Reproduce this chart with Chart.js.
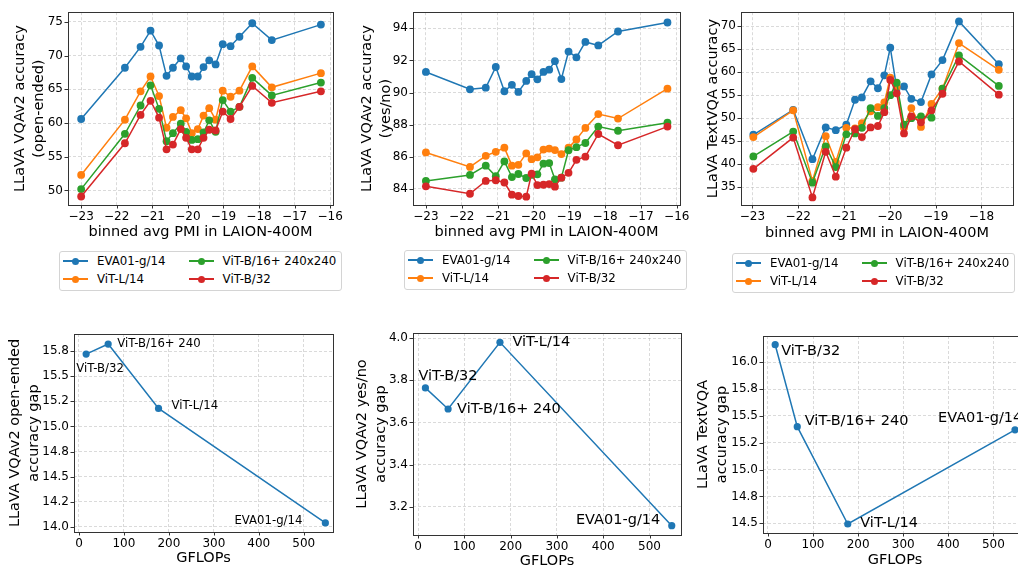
<!DOCTYPE html>
<html><head><meta charset="utf-8">
<script src="https://cdn.jsdelivr.net/npm/chart.js@4.4.0/dist/chart.umd.min.js"></script>
<style>
html,body{margin:0;padding:0;background:#fff;overflow:hidden;}
#wrap{position:relative;width:1018px;height:571px;overflow:hidden;background:#fff;}
#wrap canvas{position:absolute;}
.legend{position:absolute;border:1px solid #d4d4d4;border-radius:3px;background:rgba(255,255,255,0.85);
  font-family:'DejaVu Sans',sans-serif;font-size:11.8px;color:#000;display:grid;grid-template-rows:18px 18px;
  grid-auto-flow:column;column-gap:23px;padding:0 5px 2px 3px;}
.item{height:18px;display:flex;align-items:center;white-space:nowrap;}
.handle{position:relative;width:25px;height:18px;margin-right:9px;flex:none;}
.handle .ln{position:absolute;left:0;right:0;top:8.25px;height:1.5px;}
.handle .dot{position:absolute;left:9px;top:5.5px;width:7px;height:7px;border-radius:50%;}
</style>
</head><body>
<div id="wrap"></div>
<script>
// ---------------- data ----------------
const seriesNames = ['EVA01-g/14', 'ViT-L/14', 'ViT-B/16+ 240x240', 'ViT-B/32'];
const seriesColors = ['#1f77b4', '#ff7f0e', '#2ca02c', '#d62728'];

// binned avg PMI (x) for VQAv2 panels
const pmiBins = [-23.0, -21.77, -21.33, -21.05, -20.81, -20.60, -20.42, -20.20, -20.05, -19.89, -19.72, -19.56, -19.40, -19.22, -19.02, -18.80, -18.55, -18.19, -17.64, -16.26];
// binned avg PMI (x) for TextVQA panel
const pmiBinsText = [-22.98, -22.11, -21.69, -21.40, -21.18, -20.95, -20.76, -20.61, -20.42, -20.26, -20.12, -19.99, -19.85, -19.69, -19.53, -19.32, -19.09, -18.85, -18.49, -17.62];

// VQAv2 open-ended accuracy
const openEVA  = [60.6, 68.2, 71.3, 73.7, 71.5, 67.0, 68.2, 69.6, 68.4, 66.9, 66.9, 68.3, 69.3, 68.7, 71.7, 71.4, 72.8, 74.8, 72.3, 74.6];
const openL14  = [52.3, 60.5, 64.7, 66.9, 64.0, 59.3, 60.9, 61.9, 60.7, 58.5, 59.1, 61.1, 62.2, 60.5, 64.8, 63.9, 64.8, 68.4, 65.3, 67.4];
const openB16  = [50.2, 58.4, 62.6, 65.6, 62.1, 57.3, 58.5, 59.9, 58.7, 57.5, 57.6, 58.6, 60.4, 58.7, 63.4, 61.7, 62.4, 66.7, 64.1, 66.0];
const openB32  = [49.1, 57.0, 61.2, 63.3, 60.8, 56.1, 56.8, 59.1, 57.8, 56.1, 56.1, 57.8, 59.0, 58.9, 61.7, 60.6, 62.4, 65.5, 63.0, 64.7];

// VQAv2 yes/no accuracy
const ynEVA = [91.28, 90.20, 90.30, 91.59, 90.08, 90.48, 90.04, 90.72, 91.14, 90.82, 91.28, 91.42, 91.95, 90.84, 92.55, 92.19, 93.15, 92.93, 93.80, 94.36];
const ynL14 = [86.27, 85.37, 86.06, 86.31, 86.57, 85.45, 85.50, 86.21, 85.85, 85.97, 86.45, 86.51, 86.42, 86.17, 86.57, 87.08, 87.80, 88.66, 88.38, 90.24];
const ynB16 = [84.50, 84.87, 85.45, 84.79, 85.71, 84.74, 84.93, 84.68, 84.87, 84.91, 85.57, 85.61, 84.60, 84.70, 86.41, 86.60, 86.86, 87.88, 87.62, 88.12];
const ynB32 = [84.16, 83.70, 84.50, 84.54, 84.40, 83.64, 83.56, 83.52, 84.95, 84.24, 84.26, 84.30, 84.14, 84.70, 85.00, 85.81, 86.01, 87.42, 86.72, 87.88];

// TextVQA accuracy
const txtEVA = [46.4, 51.8, 41.1, 48.0, 47.4, 48.6, 54.0, 54.5, 58.0, 56.5, 59.3, 65.3, 56.5, 56.9, 54.2, 53.5, 59.5, 62.6, 71.0, 61.7];
const txtL14 = [45.9, 51.7, 36.4, 46.1, 40.5, 47.9, 47.8, 48.9, 51.5, 52.4, 53.4, 58.8, 56.8, 47.9, 52.2, 48.1, 53.1, 56.4, 66.3, 60.5];
const txtB16 = [41.7, 47.1, 36.0, 43.9, 39.4, 46.5, 46.7, 47.9, 52.2, 50.5, 52.2, 55.0, 57.7, 48.6, 50.0, 50.4, 50.1, 56.4, 63.6, 57.0];
const txtB32 = [39.0, 45.8, 32.8, 42.7, 37.3, 43.6, 47.6, 45.9, 48.0, 48.3, 51.3, 58.3, 55.4, 46.7, 50.4, 49.1, 51.7, 55.3, 62.3, 55.1];

// accuracy gap vs compute
const gapModels = ['ViT-B/32', 'ViT-B/16+ 240', 'ViT-L/14', 'EVA01-g/14'];
const gflops = [16, 65, 177, 548];
const gapOpen = [15.72, 15.82, 15.18, 14.04];
const gapYesNo = [3.764, 3.664, 3.98, 3.111];
const gapText = [16.164, 15.40, 14.494, 15.371];

// tick values and labels
const pmiTicks = [-23, -22, -21, -20, -19, -18, -17, -16];
const pmiTickLabels = ['\u221223', '\u221222', '\u221221', '\u221220', '\u221219', '\u221218', '\u221217', '\u221216'];
const openTicks = [50, 55, 60, 65, 70, 75];
const ynTicks = [84, 86, 88, 90, 92, 94];
const txtTicks = [35, 40, 45, 50, 55, 60, 65, 70];
const gflopTicks = [0, 100, 200, 300, 400, 500];
const gapOpenTicks = [14.0, 14.25, 14.5, 14.75, 15.0, 15.25, 15.5, 15.75];
const gapOpenTickLabels = ['14.0', '14.2', '14.5', '14.8', '15.0', '15.2', '15.5', '15.8'];
const gapYesNoTicks = [3.2, 3.4, 3.6, 3.8, 4.0];
const gapYesNoTickLabels = ['3.2', '3.4', '3.6', '3.8', '4.0'];
const gapTextTicks = [14.5, 14.75, 15.0, 15.25, 15.5, 15.75, 16.0];
const gapTextTickLabels = ['14.5', '14.8', '15.0', '15.2', '15.5', '15.8', '16.0'];

// ---------------- drawing ----------------
const FONT = "'DejaVu Sans', sans-serif";
Chart.defaults.font.family = FONT;
const wrap = document.getElementById('wrap');
const TITLE_SIZE = 14.5, TITLE_LH = 1.3, TICK_SIZE = 12;

function pts(xs, ys) { return xs.map((x, i) => ({x: x, y: ys[i]})); }

const framePlugin = {
  id: 'frame',
  afterDraw(chart) {
    const {ctx, chartArea: a, scales} = chart;
    ctx.save();
    ctx.strokeStyle = '#333';
    ctx.lineWidth = 1;
    ctx.strokeRect(Math.round(a.left) + 0.5, Math.round(a.top) + 0.5, Math.round(a.right - a.left), Math.round(a.bottom - a.top));
    ctx.beginPath();
    scales.x.ticks.forEach(t => {
      const px = Math.round(scales.x.getPixelForValue(t.value)) + 0.5;
      ctx.moveTo(px, a.bottom); ctx.lineTo(px, a.bottom + 3.5);
    });
    scales.y.ticks.forEach(t => {
      const py = Math.round(scales.y.getPixelForValue(t.value)) + 0.5;
      ctx.moveTo(a.left, py); ctx.lineTo(a.left - 3.5, py);
    });
    ctx.stroke();
    ctx.restore();
  }
};

function labelPlugin(texts, offsets, size) {
  return {
    id: 'pointLabels',
    afterDatasetsDraw(chart) {
      const meta = chart.getDatasetMeta(0);
      const ctx = chart.ctx;
      ctx.save();
      ctx.font = size + 'px ' + FONT;
      ctx.fillStyle = '#000';
      ctx.textBaseline = 'middle';
      texts.forEach((t, i) => {
        const p = meta.data[i];
        const o = offsets[i];
        ctx.textAlign = o[2];
        ctx.fillText(t, p.x + o[0], p.y + o[1]);
      });
      ctx.restore();
    }
  };
}

function makeChart(s) {
  const c = document.createElement('canvas');
  c.width = s.box.w; c.height = s.box.h;
  c.style.left = s.box.x + 'px'; c.style.top = s.box.y + 'px';
  c.style.width = s.box.w + 'px'; c.style.height = s.box.h + 'px';
  wrap.appendChild(c);
  const lh = TITLE_SIZE * TITLE_LH;
  const xAxisH = s.box.y + s.box.h - s.plot.b;
  const yAxisW = s.plot.l - s.box.x;
  const lookup = (ticks, labels) => (v) => { const i = ticks.findIndex(t => Math.abs(t - v) < 1e-9); return i >= 0 ? labels[i] : ''; };
  const inRange = (vals, lo, hi) => vals.filter(v => v >= lo && v <= hi).map(v => ({value: v}));
  const plugins = [framePlugin];
  if (s.labels) plugins.push(labelPlugin(s.labels.texts, s.labels.offsets, s.labels.size));
  return new Chart(c, {
    type: 'scatter',
    data: {datasets: s.datasets},
    plugins: plugins,
    options: {
      responsive: false, animation: false, devicePixelRatio: 1,
      layout: {padding: {left: 0, top: s.plot.t - s.box.y, right: s.box.x + s.box.w - s.plot.r, bottom: 0}},
      plugins: {legend: {display: false}, tooltip: {enabled: false}},
      scales: {
        x: {
          type: 'linear', position: 'bottom', min: s.xMin, max: s.xMax,
          afterFit: (sc) => { sc.height = xAxisH; },
          afterBuildTicks: (sc) => { sc.ticks = inRange(s.xTicks, s.xMin, s.xMax); },
          ticks: {callback: lookup(s.xTicks, s.xTickLabels), color: '#000', font: {size: TICK_SIZE}, padding: 5, maxRotation: 0, autoSkip: false},
          grid: {color: 'rgba(170,170,170,0.55)', lineWidth: 0.8, drawTicks: false},
          border: {display: false, dash: [3, 2]},
          title: {display: true, text: s.xTitle, color: '#000', font: {size: TITLE_SIZE, lineHeight: TITLE_LH},
                  padding: {top: 0, bottom: (s.box.y + s.box.h) - lh / 2 - s.xTitleY}}
        },
        y: {
          type: 'linear', position: 'left', min: s.yMin, max: s.yMax,
          afterFit: (sc) => { sc.width = yAxisW; },
          afterBuildTicks: (sc) => { sc.ticks = inRange(s.yTicks, s.yMin, s.yMax); },
          ticks: {callback: lookup(s.yTicks, s.yTickLabels), color: '#000', font: {size: TICK_SIZE}, padding: 5, autoSkip: false},
          grid: {color: 'rgba(170,170,170,0.55)', lineWidth: 0.8, drawTicks: false},
          border: {display: false, dash: [3, 2]},
          title: {display: true, text: s.yTitle, color: '#000', font: {size: TITLE_SIZE, lineHeight: TITLE_LH},
                  padding: {top: s.yTitleX - s.box.x - lh / 2, bottom: 0}}
        }
      }
    }
  });
}

function fourSeries(xs, ys) {
  return ys.map((y, i) => ({
    label: seriesNames[i], data: pts(xs, y), showLine: true,
    borderColor: seriesColors[i], backgroundColor: seriesColors[i],
    pointBackgroundColor: seriesColors[i], pointBorderWidth: 0, pointRadius: 3.9,
    borderWidth: 1.5, order: 3 - i
  }));
}
function gapSeries(ys) {
  return [{label: 'gap', data: pts(gflops, ys), showLine: true,
    borderColor: seriesColors[0], backgroundColor: seriesColors[0], pointBackgroundColor: seriesColors[0],
    pointBorderWidth: 0, pointRadius: 3.6, borderWidth: 1.5}];
}
const pmiTitle = 'binned avg PMI in LAION-400M';

makeChart({box: {x: 0, y: 0, w: 352, h: 246}, plot: {l: 68, t: 6, r: 333, b: 205},
  xMin: -23.37, xMax: -15.92, yMin: 47.84, yMax: 76.44,
  xTicks: pmiTicks, xTickLabels: pmiTickLabels, yTicks: openTicks, yTickLabels: openTicks.map(String),
  xTitle: pmiTitle, yTitle: ['LLaVA VQAv2 accuracy', '(open-ended)'], yTitleX: 20, xTitleY: 232,
  datasets: fourSeries(pmiBins, [openEVA, openL14, openB16, openB32])});

makeChart({box: {x: 345, y: 0, w: 352, h: 246}, plot: {l: 413, t: 6, r: 680, b: 205},
  xMin: -23.36, xMax: -15.91, yMin: 83.0, yMax: 95.0,
  xTicks: pmiTicks, xTickLabels: pmiTickLabels, yTicks: ynTicks, yTickLabels: ynTicks.map(String),
  xTitle: pmiTitle, yTitle: ['LLaVA VQAv2 accuracy', '(yes/no)'], yTitleX: 367, xTitleY: 232,
  datasets: fourSeries(pmiBins, [ynEVA, ynL14, ynB16, ynB32])});

makeChart({box: {x: 695, y: 0, w: 340, h: 246}, plot: {l: 741, t: 5, r: 1013, b: 205},
  xMin: -23.25, xMax: -17.31, yMin: 31.16, yMax: 73.0,
  xTicks: pmiTicks, xTickLabels: pmiTickLabels, yTicks: txtTicks, yTickLabels: txtTicks.map(String),
  xTitle: pmiTitle, yTitle: 'LLaVA TextVQA accuracy', yTitleX: 713, xTitleY: 233,
  datasets: fourSeries(pmiBinsText, [txtEVA, txtL14, txtB16, txtB32])});

makeChart({box: {x: 0, y: 310, w: 350, h: 261}, plot: {l: 74, t: 334, r: 333, b: 532},
  xMin: -11, xMax: 565, yMin: 13.95, yMax: 15.92,
  xTicks: gflopTicks, xTickLabels: gflopTicks.map(String), yTicks: gapOpenTicks, yTickLabels: gapOpenTickLabels,
  xTitle: 'GFLOPs', yTitle: ['LLaVA VQAv2 open-ended', 'accuracy gap'], yTitleX: 15, xTitleY: 558,
  datasets: gapSeries(gapOpen),
  labels: {texts: gapModels, size: 11.7, offsets: [[-10, 15, 'left'], [9, 0, 'left'], [13, -2, 'left'], [-23, -2, 'right']]}});

makeChart({box: {x: 345, y: 310, w: 355, h: 261}, plot: {l: 413, t: 333, r: 681, b: 535},
  xMin: -10.8, xMax: 568, yMin: 3.067, yMax: 4.024,
  xTicks: gflopTicks, xTickLabels: gflopTicks.map(String), yTicks: gapYesNoTicks, yTickLabels: gapYesNoTickLabels,
  xTitle: 'GFLOPs', yTitle: ['LLaVA VQAv2 yes/no', 'accuracy gap'], yTitleX: 362, xTitleY: 561,
  datasets: gapSeries(gapYesNo),
  labels: {texts: gapModels, size: 14.5, offsets: [[-7, -11.5, 'left'], [9, 0, 'left'], [12.5, 0, 'left'], [-11.5, -5.5, 'right']]}});

makeChart({box: {x: 690, y: 310, w: 360, h: 261}, plot: {l: 763, t: 336, r: 1027, b: 533},
  xMin: -11, xMax: 574.6, yMin: 14.41, yMax: 16.245,
  xTicks: gflopTicks, xTickLabels: gflopTicks.map(String), yTicks: gapTextTicks, yTickLabels: gapTextTickLabels,
  xTitle: 'GFLOPs', yTitle: ['LLaVA TextVQA', 'accuracy gap'], yTitleX: 703, xTitleY: 560,
  datasets: gapSeries(gapText),
  labels: {texts: gapModels, size: 14.5, offsets: [[6, 7, 'left'], [7.5, -5, 'left'], [12.5, -1, 'left'], [-77, -11.5, 'left']]}});

// ---------------- legends ----------------
function makeLegend(x, y) {
  const d = document.createElement('div');
  d.className = 'legend';
  d.style.left = x + 'px'; d.style.top = y + 'px';
  seriesNames.forEach((n, i) => {
    const it = document.createElement('div');
    it.className = 'item';
    it.innerHTML = '<span class="handle"><span class="ln" style="background:' + seriesColors[i] + '"></span><span class="dot" style="background:' + seriesColors[i] + '"></span></span><span>' + n + '</span>';
    d.appendChild(it);
  });
  wrap.appendChild(d);
}
makeLegend(59, 251);
makeLegend(404, 250);
makeLegend(732, 253);
</script>
</body></html>
